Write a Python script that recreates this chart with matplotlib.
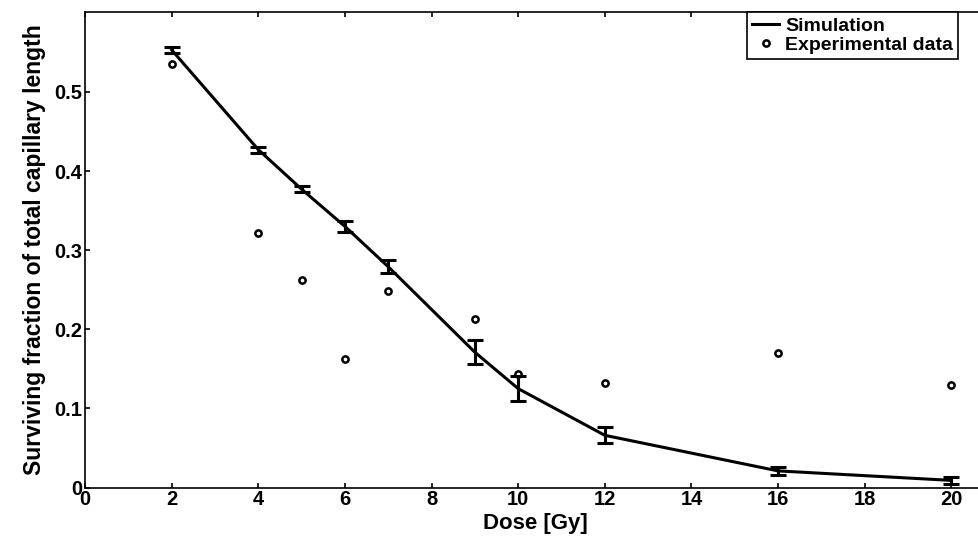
import matplotlib.pyplot as plt

dose = [2, 4, 5, 6, 7, 9, 10, 12, 16, 20]
sim = [0.553, 0.427, 0.377, 0.330, 0.279, 0.171, 0.125, 0.066, 0.021, 0.009]
sim_err = [0.004, 0.004, 0.004, 0.007, 0.008, 0.015, 0.016, 0.010, 0.005, 0.004]
exp = [0.535, 0.322, 0.262, 0.162, 0.248, 0.213, 0.143, 0.132, 0.170, 0.130]

plt.rcParams['font.family'] = ['Liberation Sans', 'DejaVu Sans']
plt.rcParams['font.weight'] = 'bold'

fig = plt.figure(figsize=(9.79, 5.49), dpi=100)
ax = fig.add_axes([0.087, 0.112, 0.92, 0.866])

eb = ax.errorbar(dose, sim, yerr=sim_err, color='black', lw=2.2, elinewidth=2.2,
                 capsize=6, capthick=2.2)
pts, = ax.plot(dose, exp, 'o', mfc='none', mec='black', mew=1.8, ms=4.5)

ax.set_xlim(0, 20.8)
ax.set_ylim(0, 0.601)
ax.set_xticks(range(0, 21, 2))
ax.set_yticks([0, 0.1, 0.2, 0.3, 0.4, 0.5])
ax.set_yticklabels(['0', '0.1', '0.2', '0.3', '0.4', '0.5'])
ax.tick_params(direction='in', labelsize=14.5, width=1.2, top=True, right=True, pad=2)
for s in ax.spines.values():
    s.set_linewidth(1.2)
ax.set_xlabel('Dose [Gy]', fontsize=16, fontweight='bold', labelpad=3)
ax.set_ylabel('Surviving fraction of total capillary length', fontsize=16.5,
              fontweight='bold', labelpad=6)

leg = ax.legend([eb.lines[0], pts], ['Simulation', 'Experimental data'],
                loc='upper left', bbox_to_anchor=(0.735, 1.0),
                fontsize=14, frameon=True, fancybox=False, edgecolor='black',
                borderaxespad=0.0, borderpad=0.25, handlelength=1.4,
                handletextpad=0.3, labelspacing=0.1, framealpha=1)
leg.get_frame().set_linewidth(1.2)

fig.savefig('out.png')
